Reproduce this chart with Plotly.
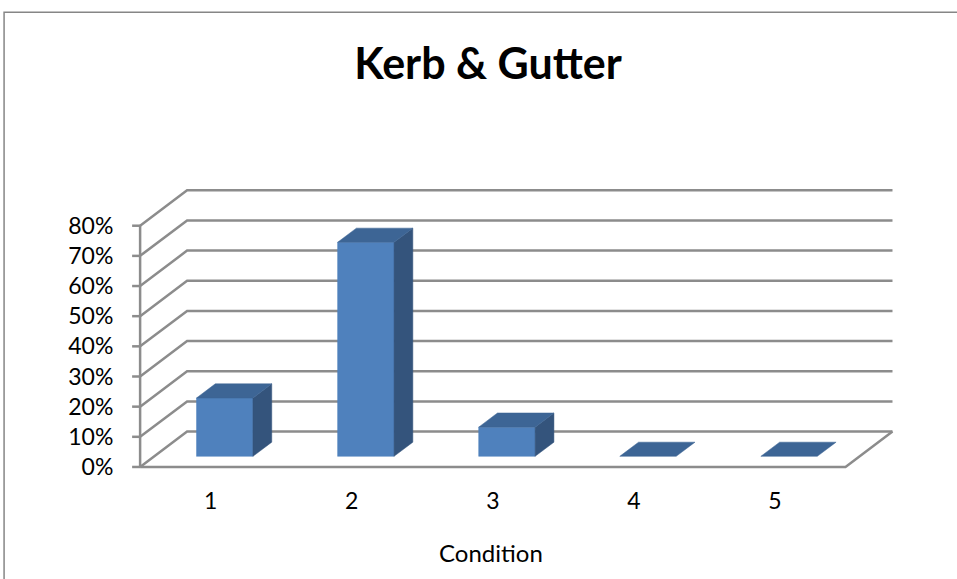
import plotly.graph_objects as go

# ---- data ----
categories = ["1", "2", "3", "4", "5"]
values = [19.35, 70.97, 9.68, 0.0, 0.0]   # percent
y_ticks = [0, 10, 20, 30, 40, 50, 60, 70, 80]
y_tick_labels = [f"{v}%" for v in y_ticks]
title_text = "Kerb & Gutter"
x_title = "Condition"

# ---- layout geometry ----
W, H = 957, 579
XR = [-0.6, 4.95]
YR = [-2.0, 93.5]
ML, MR, MT, MB = 126, 47.5, 185, 105.5
PW = W - ML - MR
PH = H - MT - MB

DX = 0.333   # depth offset in category units
DY = 11.75   # depth offset in percent units
F0, F1 = 0.3, 0.7   # bar depth fraction
BW = 0.4     # bar width

GRID = "#8C8C8C"
FRONT = "#4F81BD"
TOP = "#3D6595"
SIDE = "#34547C"

fig = go.Figure()

n = len(categories)
xl_floor, xr_floor = -0.5, n - 0.5

# back wall + side wall gridlines
gx, gy = [], []
for v in y_ticks:
    gx += [xl_floor, xl_floor + DX, xr_floor + DX, None]
    gy += [v, v + DY, v + DY, None]
# floor front/right edge
gx += [xl_floor, xr_floor, xr_floor + DX, None]
gy += [0, 0, DY, None]
fig.add_trace(go.Scatter(x=gx, y=gy, mode="lines", line=dict(color=GRID, width=2.5),
                         hoverinfo="skip", showlegend=False))

# front vertical axis + tick marks
tl = 8 / (PW / (XR[1] - XR[0]))
ax, ay = [xl_floor, xl_floor, None], [0, y_ticks[-1], None]
for v in y_ticks:
    ax += [xl_floor - tl, xl_floor, None]
    ay += [v, v, None]
fig.add_trace(go.Scatter(x=ax, y=ay, mode="lines", line=dict(color=GRID, width=2.5),
                         hoverinfo="skip", showlegend=False))

# bars as 3D boxes
ddx, ddy = (F1 - F0) * DX, (F1 - F0) * DY
b0 = F0 * DY
for i, v in enumerate(values):
    xl = i - BW / 2 + F0 * DX
    xr = i + BW / 2 + F0 * DX
    top = b0 + v
    faces = []
    if v > 0:
        faces.append(([xl, xr, xr, xl, xl], [b0, b0, top, top, b0], FRONT))
        faces.append(([xr, xr + ddx, xr + ddx, xr, xr], [b0, b0 + ddy, top + ddy, top, b0], SIDE))
    faces.append(([xl, xr, xr + ddx, xl + ddx, xl], [top, top, top + ddy, top + ddy, top], TOP))
    for fx, fy, col in faces:
        fig.add_trace(go.Scatter(x=fx, y=fy, mode="lines", fill="toself", fillcolor=col,
                                 line=dict(color=col, width=0.5), hoverinfo="skip",
                                 showlegend=False))

def px_to_paper_x(px):
    return (px - ML) / PW

def px_to_paper_y(py):
    return (H - MB - py) / PH

# outer chart border
fig.add_shape(type="path",
              path=f"M {px_to_paper_x(4)} {px_to_paper_y(H + 5)} L {px_to_paper_x(4)} {px_to_paper_y(12)} L {px_to_paper_x(W + 5)} {px_to_paper_y(12)}",
              xref="paper", yref="paper", line=dict(color="#868686", width=1.5))

# x-axis title (centred under the floor's front edge as in the reference)
fig.add_annotation(text=x_title, xref="paper", yref="paper",
                   x=px_to_paper_x(491), y=px_to_paper_y(553),
                   xanchor="center", yanchor="middle", showarrow=False,
                   font=dict(size=24, family="Lato", color="black"))

fig.update_layout(
    width=W, height=H,
    paper_bgcolor="white", plot_bgcolor="white",
    margin=dict(l=ML, r=MR, t=MT, b=MB, autoexpand=False),
    font=dict(family="Lato", color="black", size=23),
    title=dict(text=f"<b>{title_text}</b>", x=488 / W, xanchor="center",
               y=1 - 64 / H, yanchor="middle", font=dict(size=43, family="Lato")),
    xaxis=dict(range=XR, tickvals=list(range(n)), ticktext=categories,
               showgrid=False, zeroline=False, showline=False, fixedrange=True,
               ticks="outside", ticklen=7, tickcolor="rgba(0,0,0,0)"),
    yaxis=dict(range=YR, tickvals=y_ticks, ticktext=y_tick_labels,
               showgrid=False, zeroline=False, showline=False, fixedrange=True,
               ticks="outside", ticklen=7, tickcolor="rgba(0,0,0,0)"),
)

fig.write_html("out.html", config={"displayModeBar": False},
               post_script="document.body.style.margin='0';")
